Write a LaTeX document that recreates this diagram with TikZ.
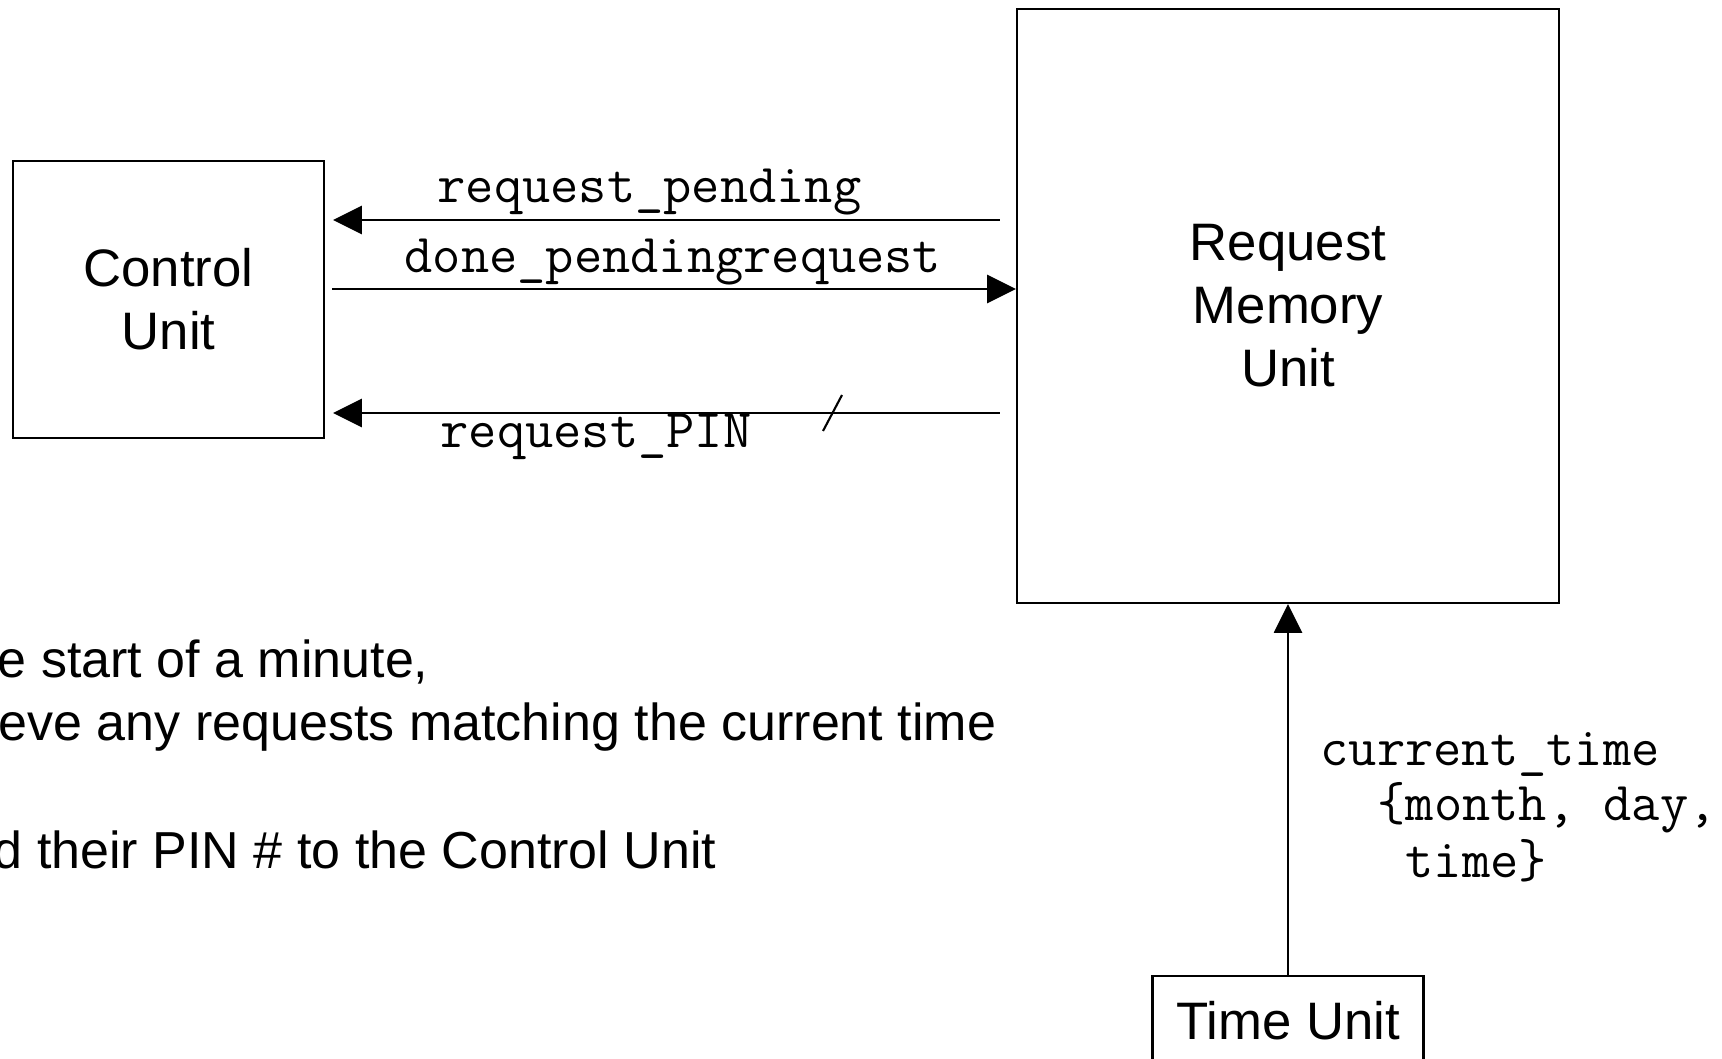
\documentclass[tikz,border=0pt]{standalone}
\usepackage{fontspec}
\setmainfont{Liberation Sans}
\usetikzlibrary{arrows.meta}

% type sizes: block names, signal names, notes
\newcommand\blockFont{\fontsize{15}{17.9}\selectfont}
\newcommand\noteFont{\fontsize{14.8}{17.9}\selectfont}
\newcommand\signalFont{\ttfamily\fontsize{15.6}{16}\selectfont}

\tikzset{
  block/.style={draw, line width=0.6pt, inner sep=0pt, align=center, font=\blockFont},
  signal/.style={line width=0.6pt, -{Triangle[length=8.2pt,width=8pt]}},
  signame/.style={anchor=base west, inner sep=0pt, font=\signalFont},
  noteline/.style={anchor=base west, inner sep=0pt, font=\noteFont},
}

\begin{document}
\begin{tikzpicture}[x=0.1mm, y=-0.1mm]
  \useasboundingbox (0,0) rectangle (1722,1059);
  \clip (0,0) rectangle (1722,1059);

  % functional blocks
  \node[block, minimum width=31.1mm, minimum height=27.7mm] (cu) at (168.5,299.5) {Control\\Unit};
  \node[block, minimum width=54.2mm, minimum height=59.4mm] (rmu) at (1288,306) {Request\\Memory\\Unit};
  \node[block, minimum width=27.1mm, minimum height=9mm] (tu) at (1288,1021) {Time Unit};

  % signal levels between the two upper blocks
  \coordinate (lvlPending) at (0,220);
  \coordinate (lvlDone) at (0,289);
  \coordinate (lvlPin) at (0,413);

  \draw[signal, shorten <=1.6mm, shorten >=0.8mm] (rmu.west |- lvlPending) -- (cu.east |- lvlPending);
  \draw[signal, shorten <=0.7mm] (cu.east |- lvlDone) -- (rmu.west |- lvlDone);
  \draw[signal, shorten <=1.6mm, shorten >=0.8mm] (rmu.west |- lvlPin) -- (cu.east |- lvlPin);
  \draw[signal] (tu.north) -- (rmu.south);

  % bus mark on the PIN line
  \coordinate (busmark) at (833,413);
  \draw[line width=0.6pt] (busmark) ++(9,-18) -- ++(-19,36);

  % signal names
  \node[signame] (lblPending) at (437,203) {request\_pending};
  \node[signame] (lblDone) at (404,273) {done\_pendingrequest};
  \node[signame] (lblPin) at (440,448) {request\_PIN};
  \node[signame] (lblTime1) at (1320,765) {current\_time};
  \node[signame] (lblTime2) at (1377,820) {\{month, day,};
  \node[signame] (lblTime3) at (1405,877) {time\}};

  % notes
  \node[noteline] (note1) at (-3,677) {e start of a minute,};
  \node[noteline] (note2) at (-2,740) {eve any requests matching the current time};
  \node[noteline] (note3) at (-7,868) {d their PIN \# to the Control Unit};
\end{tikzpicture}
\end{document}
